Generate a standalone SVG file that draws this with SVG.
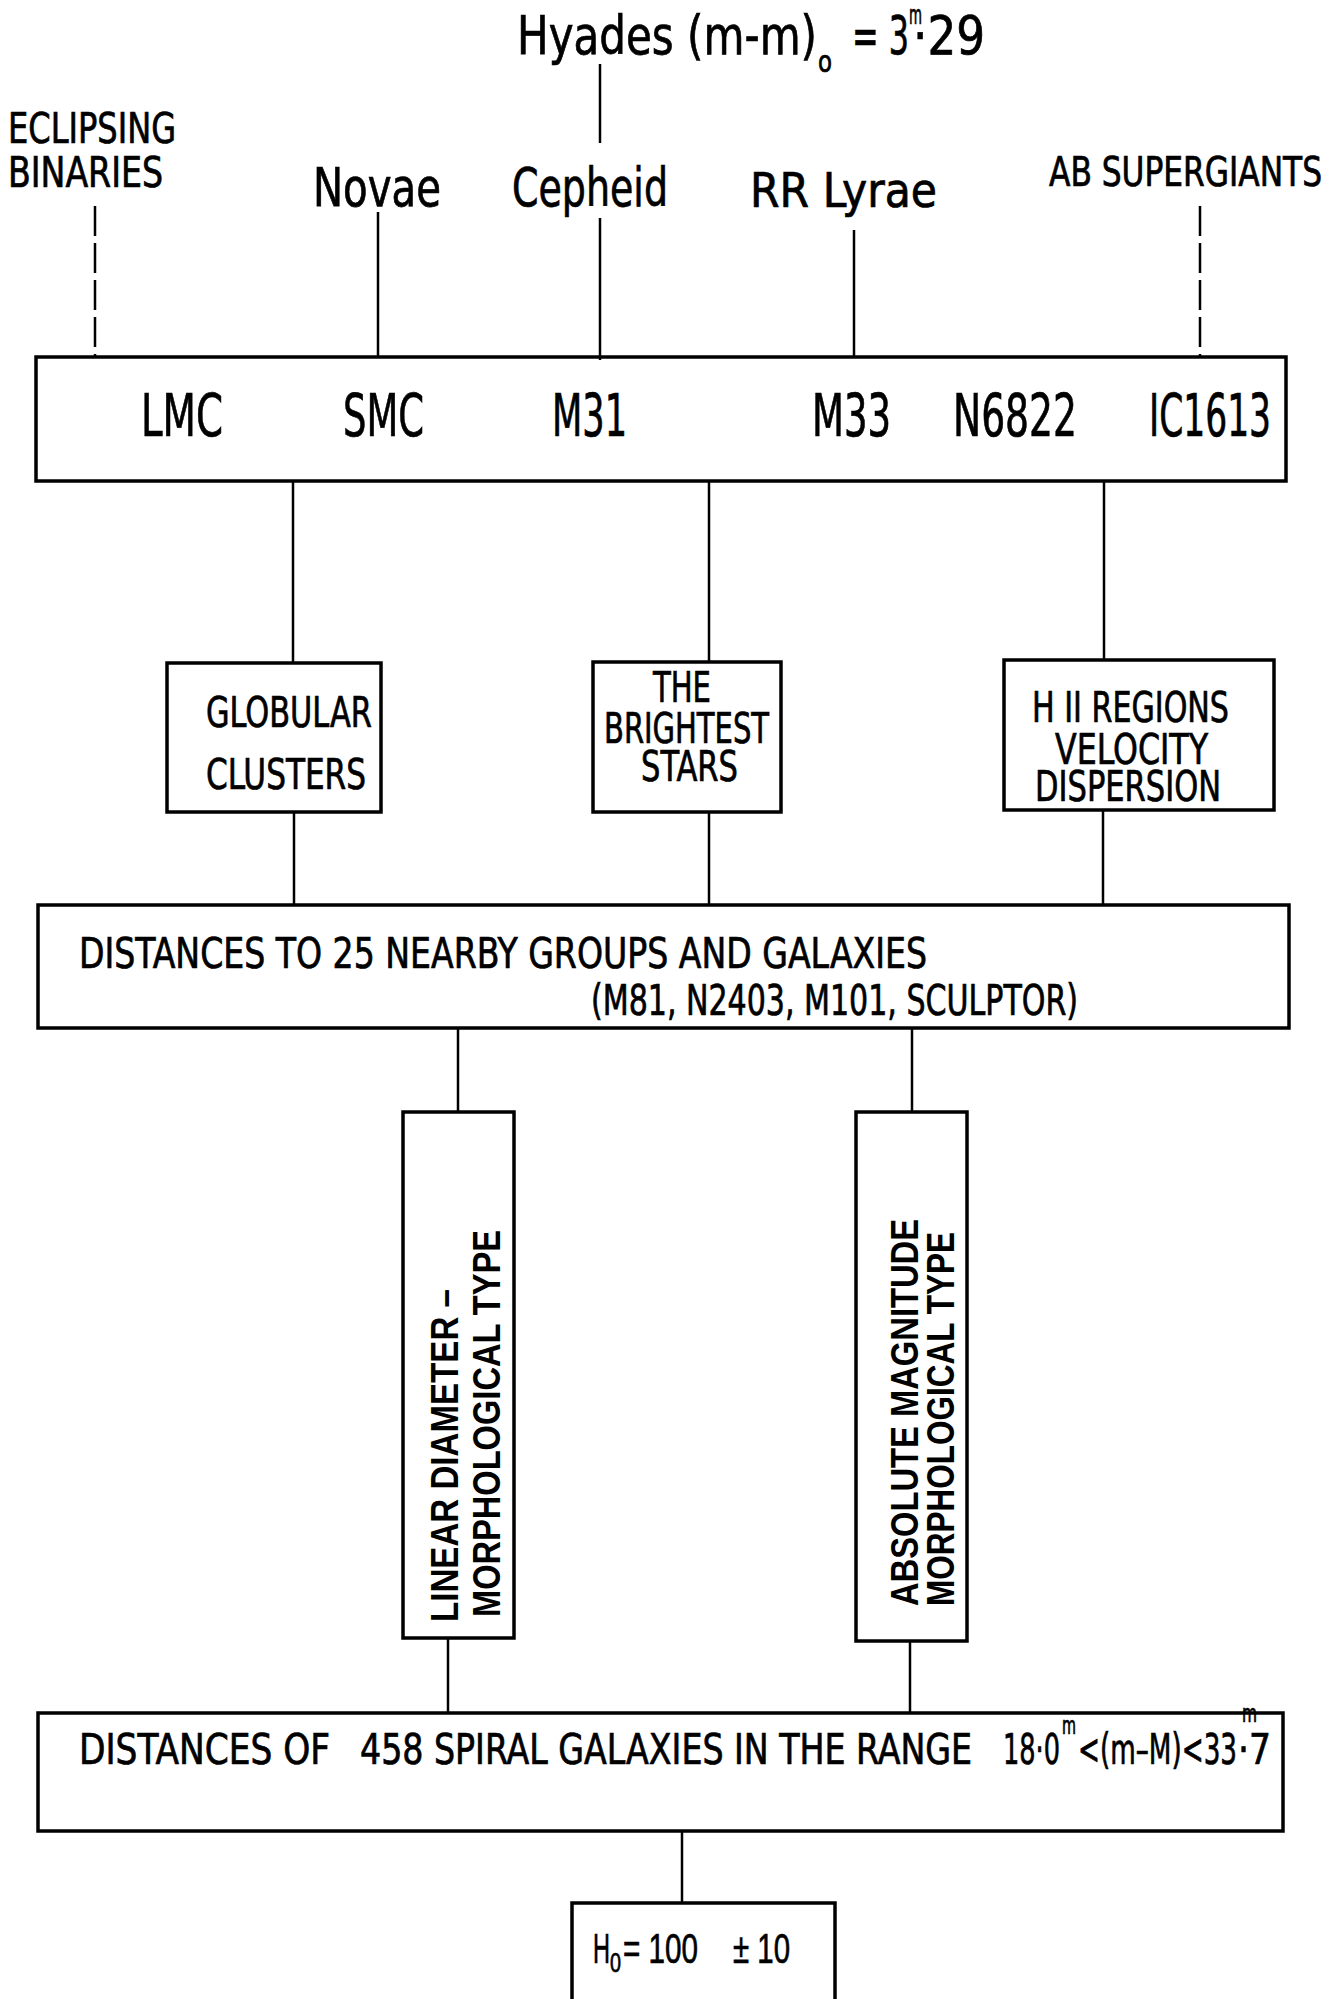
<svg xmlns="http://www.w3.org/2000/svg" width="1343" height="1999" viewBox="0 0 1343 1999">
<style>
  .bg{fill:#fff}
  .box{fill:none;stroke:#000;stroke-width:3.5}
  .ln{fill:none;stroke:#000;stroke-width:2.5}
  .dash{fill:none;stroke:#000;stroke-width:2.5;stroke-dasharray:30 7}
  text{fill:#000;stroke:#000;stroke-width:0.7;font-family:'Liberation Sans Narrow','DejaVu Sans Condensed','Liberation Sans',sans-serif;font-weight:normal}
  .t{font-size:42px}
  .big{font-size:54px}
  .lab{font-size:58px}
  .v{font-family:'Liberation Sans','DejaVu Sans',sans-serif;font-weight:bold;stroke-width:0;font-size:39px}
  .h0{font-family:'Liberation Sans','DejaVu Sans',sans-serif;font-size:42px}
</style>
<rect class="bg" x="0" y="0" width="1343" height="1999"/>

<g id="connectors">
  <line class="ln" x1="600" y1="64" x2="600" y2="143"/>
  <line class="dash" x1="95" y1="206" x2="95" y2="357"/>
  <line class="ln" x1="378" y1="212" x2="378" y2="357"/>
  <line class="ln" x1="600" y1="218" x2="600" y2="360"/>
  <line class="ln" x1="854" y1="230" x2="854" y2="357"/>
  <line class="dash" x1="1200" y1="206" x2="1200" y2="357"/>
  <line class="ln" x1="293" y1="481" x2="293" y2="663"/>
  <line class="ln" x1="709" y1="481" x2="709" y2="662"/>
  <line class="ln" x1="1104" y1="481" x2="1104" y2="660"/>
  <line class="ln" x1="294" y1="812" x2="294" y2="905"/>
  <line class="ln" x1="709" y1="812" x2="709" y2="905"/>
  <line class="ln" x1="1103" y1="810" x2="1103" y2="905"/>
  <line class="ln" x1="458" y1="1028" x2="458" y2="1112"/>
  <line class="ln" x1="912" y1="1028" x2="912" y2="1112"/>
  <line class="ln" x1="448" y1="1638" x2="448" y2="1713"/>
  <line class="ln" x1="910" y1="1641" x2="910" y2="1713"/>
  <line class="ln" x1="682" y1="1831" x2="682" y2="1903"/>
</g>

<g id="hyades">
  <text class="big" x="517" y="54" textLength="300" lengthAdjust="spacingAndGlyphs">Hyades (m-m)</text>
  <text style="font-size:30px" x="818" y="72" textLength="14" lengthAdjust="spacingAndGlyphs">o</text>
  <text class="big" x="852" y="54" textLength="57" lengthAdjust="spacingAndGlyphs">= 3</text>
  <text style="font-size:26px" x="909" y="24" textLength="13" lengthAdjust="spacingAndGlyphs">m</text>
  <text class="big" x="913" y="54" textLength="72" lengthAdjust="spacingAndGlyphs">·29</text>
</g>

<g id="eclipsing-binaries">
  <text class="t" x="8" y="143" textLength="168" lengthAdjust="spacingAndGlyphs">ECLIPSING</text>
  <text class="t" x="8" y="187" textLength="155" lengthAdjust="spacingAndGlyphs">BINARIES</text>
</g>
<g id="novae"><text class="big" x="313" y="206" textLength="128" lengthAdjust="spacingAndGlyphs">Novae</text></g>
<g id="cepheid"><text class="big" x="512" y="206" textLength="156" lengthAdjust="spacingAndGlyphs">Cepheid</text></g>
<g id="rr-lyrae"><text class="big" style="font-size:48px" x="750" y="207" textLength="187" lengthAdjust="spacingAndGlyphs">RR Lyrae</text></g>
<g id="ab-supergiants"><text class="t" style="font-size:40px" x="1049" y="186" textLength="273" lengthAdjust="spacingAndGlyphs">AB  SUPERGIANTS</text></g>

<g id="local-galaxies">
  <rect class="box" x="36" y="357" width="1250" height="124"/>
  <text class="lab" x="141" y="436" textLength="82" lengthAdjust="spacingAndGlyphs">LMC</text>
  <text class="lab" x="343" y="436" textLength="81" lengthAdjust="spacingAndGlyphs">SMC</text>
  <text class="lab" x="552" y="436" textLength="75" lengthAdjust="spacingAndGlyphs">M31</text>
  <text class="lab" x="812" y="436" textLength="79" lengthAdjust="spacingAndGlyphs">M33</text>
  <text class="lab" x="953" y="436" textLength="124" lengthAdjust="spacingAndGlyphs">N6822</text>
  <text class="lab" x="1149" y="436" textLength="122" lengthAdjust="spacingAndGlyphs">IC1613</text>
</g>

<g id="globular-clusters">
  <rect class="box" x="167" y="663" width="214" height="149"/>
  <text class="t" x="206" y="727" textLength="166" lengthAdjust="spacingAndGlyphs">GLOBULAR</text>
  <text class="t" x="206" y="789" textLength="160" lengthAdjust="spacingAndGlyphs">CLUSTERS</text>
</g>

<g id="brightest-stars">
  <rect class="box" x="593" y="662" width="188" height="150"/>
  <text class="t" x="653" y="702" textLength="58" lengthAdjust="spacingAndGlyphs">THE</text>
  <text class="t" x="604" y="743" textLength="165" lengthAdjust="spacingAndGlyphs">BRIGHTEST</text>
  <text class="t" x="641" y="781" textLength="97" lengthAdjust="spacingAndGlyphs">STARS</text>
</g>

<g id="hii-regions">
  <rect class="box" x="1004" y="660" width="270" height="150"/>
  <text class="t" x="1032" y="722" textLength="197" lengthAdjust="spacingAndGlyphs">H II REGIONS</text>
  <text class="t" x="1055" y="764" textLength="153" lengthAdjust="spacingAndGlyphs">VELOCITY</text>
  <text class="t" x="1035" y="801" textLength="186" lengthAdjust="spacingAndGlyphs">DISPERSION</text>
</g>

<g id="nearby-groups">
  <rect class="box" x="38" y="905" width="1251" height="123"/>
  <text class="t" x="79" y="968" textLength="848" lengthAdjust="spacingAndGlyphs">DISTANCES  TO  25  NEARBY  GROUPS  AND  GALAXIES</text>
  <text class="t" x="591" y="1015" textLength="487" lengthAdjust="spacingAndGlyphs">(M81, N2403,  M101,  SCULPTOR)</text>
</g>

<g id="linear-diameter">
  <rect class="box" x="403" y="1112" width="111" height="526"/>
  <text class="v" transform="translate(458,1622) rotate(-90)" x="0" y="0" textLength="333" lengthAdjust="spacingAndGlyphs">LINEAR  DIAMETER  –</text>
  <text class="v" transform="translate(500,1617) rotate(-90)" x="0" y="0" textLength="387" lengthAdjust="spacingAndGlyphs">MORPHOLOGICAL  TYPE</text>
</g>

<g id="absolute-magnitude">
  <rect class="box" x="856" y="1112" width="111" height="529"/>
  <text class="v" transform="translate(918,1606) rotate(-90)" x="0" y="0" textLength="387" lengthAdjust="spacingAndGlyphs">ABSOLUTE  MAGNITUDE</text>
  <text class="v" transform="translate(954,1606) rotate(-90)" x="0" y="0" textLength="374" lengthAdjust="spacingAndGlyphs">MORPHOLOGICAL  TYPE</text>
</g>

<g id="spiral-galaxies">
  <rect class="box" x="38" y="1713" width="1245" height="118"/>
  <text class="t" x="79" y="1764" textLength="251" lengthAdjust="spacingAndGlyphs">DISTANCES  OF</text>
  <text class="t" x="360" y="1764" textLength="612" lengthAdjust="spacingAndGlyphs">458 SPIRAL  GALAXIES  IN  THE  RANGE</text>
  <text class="t" x="1003" y="1764" textLength="57" lengthAdjust="spacingAndGlyphs">18·0</text>
  <text style="font-size:24px" x="1062" y="1734" textLength="14" lengthAdjust="spacingAndGlyphs">m</text>
  <text class="t" x="1078" y="1764" textLength="159" lengthAdjust="spacingAndGlyphs">&lt;(m–M)&lt;33</text>
  <text style="font-size:24px" x="1242" y="1722" textLength="15" lengthAdjust="spacingAndGlyphs">m</text>
  <text class="t" x="1238" y="1764" textLength="33" lengthAdjust="spacingAndGlyphs">·7</text>
</g>

<g id="hubble-constant">
  <rect class="box" x="572" y="1903" width="263" height="110"/>
  <text class="h0" x="593" y="1963" textLength="17" lengthAdjust="spacingAndGlyphs">H</text>
  <text class="h0" style="font-size:28px" x="610" y="1972" textLength="11" lengthAdjust="spacingAndGlyphs">0</text>
  <text class="h0" x="623" y="1963" textLength="75" lengthAdjust="spacingAndGlyphs">= 100</text>
  <text class="h0" x="733" y="1963" textLength="57" lengthAdjust="spacingAndGlyphs">± 10</text>
</g>
</svg>
